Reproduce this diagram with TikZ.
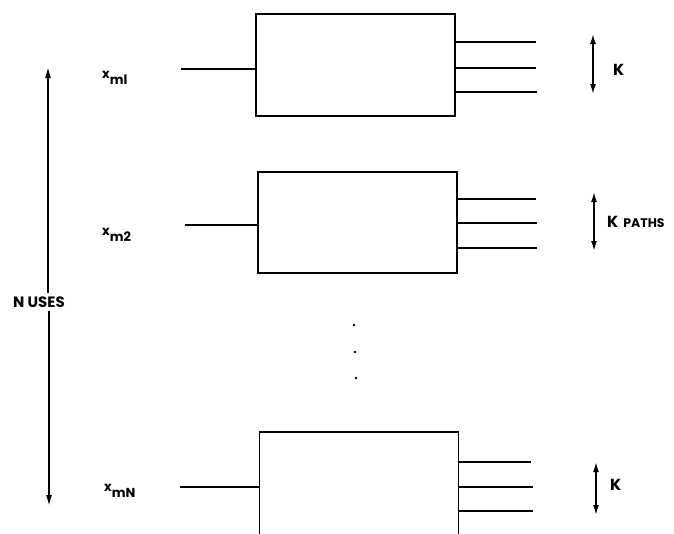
\documentclass[tikz,border=0pt]{standalone}
\usepackage{fontspec}
\setmainfont{Poppins}
\usetikzlibrary{arrows.meta}
\begin{document}
\begin{tikzpicture}[x=1pt,y=-1pt,
  blk/.style={draw, line width=1.8pt, minimum width=199pt, inner sep=0pt},
  wire/.style={line width=1.8pt},
  arr/.style={line width=1.6pt,-{Latex[length=11pt,width=6pt]}},
  darr/.style={line width=1.6pt,{Latex[length=10pt,width=6pt]}-{Latex[length=10pt,width=6pt]}},
  lbl/.style={anchor=west, inner sep=0pt, font=\fontsize{16}{18}\selectfont\bfseries},
  sub/.style={anchor=west, inner sep=0pt, font=\fontsize{13}{15}\selectfont\bfseries},
  dotn/.style={circle, fill, inner sep=0pt, minimum size=2.6pt}]
\useasboundingbox (0,0) rectangle (674,533);
\clip (0,0) rectangle (674,533);
% boxes
\node[blk, minimum height=102pt] (box1) at (355.5,65) {};
\node[blk, minimum height=101pt] (box2) at (357.5,222.5) {};
\node[blk, minimum height=140pt] (box3) at (359,502) {};
% inputs
\coordinate (in1) at (181,69);
\coordinate (in2) at (185,225);
\coordinate (in3) at (180,487);
\draw[wire] (in1) -- (in1 -| box1.west);
\draw[wire] (in2) -- (in2 -| box2.west);
\draw[wire] (in3) -- (in3 -| box3.west);
% outputs
\coordinate (o11) at (536,42);
\coordinate (o12) at (536,68);
\coordinate (o13) at (537,92);
\coordinate (o21) at (536,199);
\coordinate (o22) at (537,223);
\coordinate (o23) at (537,248);
\coordinate (o31) at (531,462);
\coordinate (o32) at (533,487);
\coordinate (o33) at (533,511);
\foreach \o in {o11,o12,o13} \draw[wire] (\o -| box1.east) -- (\o);
\foreach \o in {o21,o22,o23} \draw[wire] (\o -| box2.east) -- (\o);
\foreach \o in {o31,o32,o33} \draw[wire] (\o -| box3.east) -- (\o);
% K arrows
\coordinate (k1t) at (593,34);  \coordinate (k1b) at (593,94);
\coordinate (k2t) at (594,192); \coordinate (k2b) at (594,251);
\coordinate (k3t) at (596,462); \coordinate (k3b) at (596,515);
\draw[darr] (k1t) -- (k1b);
\draw[darr] (k2t) -- (k2b);
\draw[darr] (k3t) -- (k3b);
\node[lbl] (K1) at (613,70) {K};
\node[lbl] (K2) at (607,222) {K\hspace{5pt}{\fontsize{12.5}{14}\selectfont PATHS}};
\node[lbl] (K3) at (610,485) {K};
% x labels
\node[sub] (x1) at (102,78) {x\raisebox{-6pt}{ml}};
\node[sub] (x2) at (102,235) {x\raisebox{-6pt}{m2}};
\node[sub] (x3) at (104,491) {x\raisebox{-6pt}{mN}};
% N uses
\node[lbl, anchor=center, font=\fontsize{15}{17}\selectfont\bfseries] (nuses) at (39,302) {N USES};
\coordinate (nt) at (48,67);
\coordinate (nb) at (49,506);
\draw[arr] (nt |- nuses.north) ++(0,-3) -- (nt);
\draw[arr] (nb |- nuses.south) ++(0,3) -- (nb);
% dots
\node[dotn] (d1) at (354,325) {};
\node[dotn] (d2) at (355,352) {};
\node[dotn] (d3) at (356,378) {};
\end{tikzpicture}
\end{document}
